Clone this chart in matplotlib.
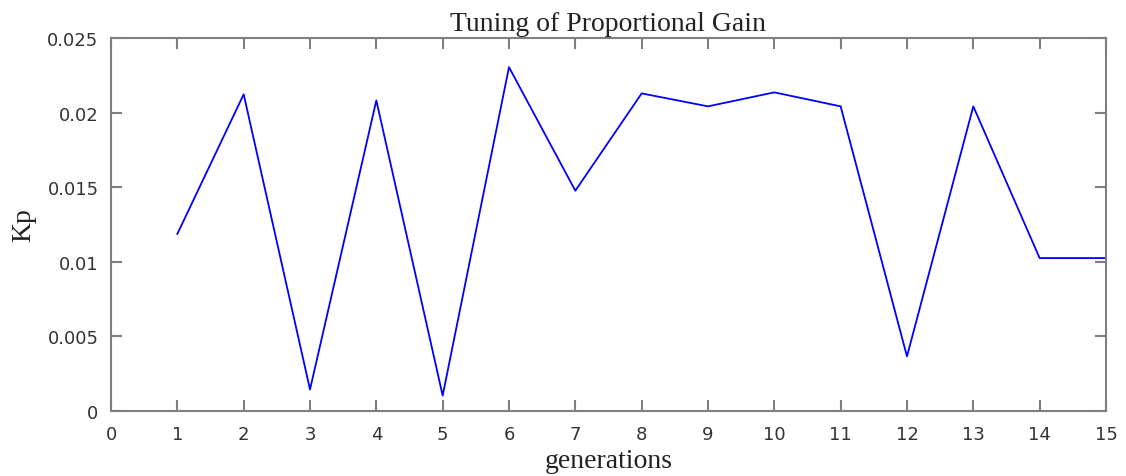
import matplotlib
matplotlib.use("Agg")
import matplotlib.pyplot as plt

generations = [1, 2, 3, 4, 5, 6, 7, 8, 9, 10, 11, 12, 13, 14, 15]
kp = [0.01186, 0.02123, 0.00142, 0.02082, 0.00101, 0.02305, 0.01476,
      0.02129, 0.02042, 0.02136, 0.02042, 0.00364, 0.02042, 0.01024, 0.01024]

axis_grey = "#7f7f7f"

fig = plt.figure(figsize=(11.26, 4.77), dpi=100)
ax = fig.add_axes([0.0986, 0.137, 0.8836, 0.781])

ax.plot(generations, kp, color="blue", linewidth=1.3)

ax.set_xlim(0, 15)
ax.set_ylim(0, 0.025)
ax.set_xticks(range(0, 16))
ax.set_yticks([0, 0.005, 0.01, 0.015, 0.02, 0.025])
ax.set_yticklabels(["0", "0.005", "0.01", "0.015", "0.02", "0.025"])

for s in ax.spines.values():
    s.set_color(axis_grey)
    s.set_linewidth(1.5)
ax.tick_params(direction="in", length=8, width=1.5, color=axis_grey,
               top=True, right=True, labelsize=13, labelcolor="#333333", pad=10)
ax.tick_params(axis="y", pad=9)
for lab in ax.get_xticklabels() + ax.get_yticklabels():
    lab.set_fontfamily("DejaVu Sans")

ax.set_title("Tuning of Proportional Gain", fontfamily="Liberation Serif",
             fontsize=20, color="#222222", pad=6)
ax.set_xlabel("generations", fontfamily="Liberation Serif", fontsize=20, color="#222222", labelpad=4)
ax.set_ylabel("Kp", fontfamily="Liberation Serif", fontsize=20, color="#222222", labelpad=8)

fig.savefig("out.png", dpi=100)
